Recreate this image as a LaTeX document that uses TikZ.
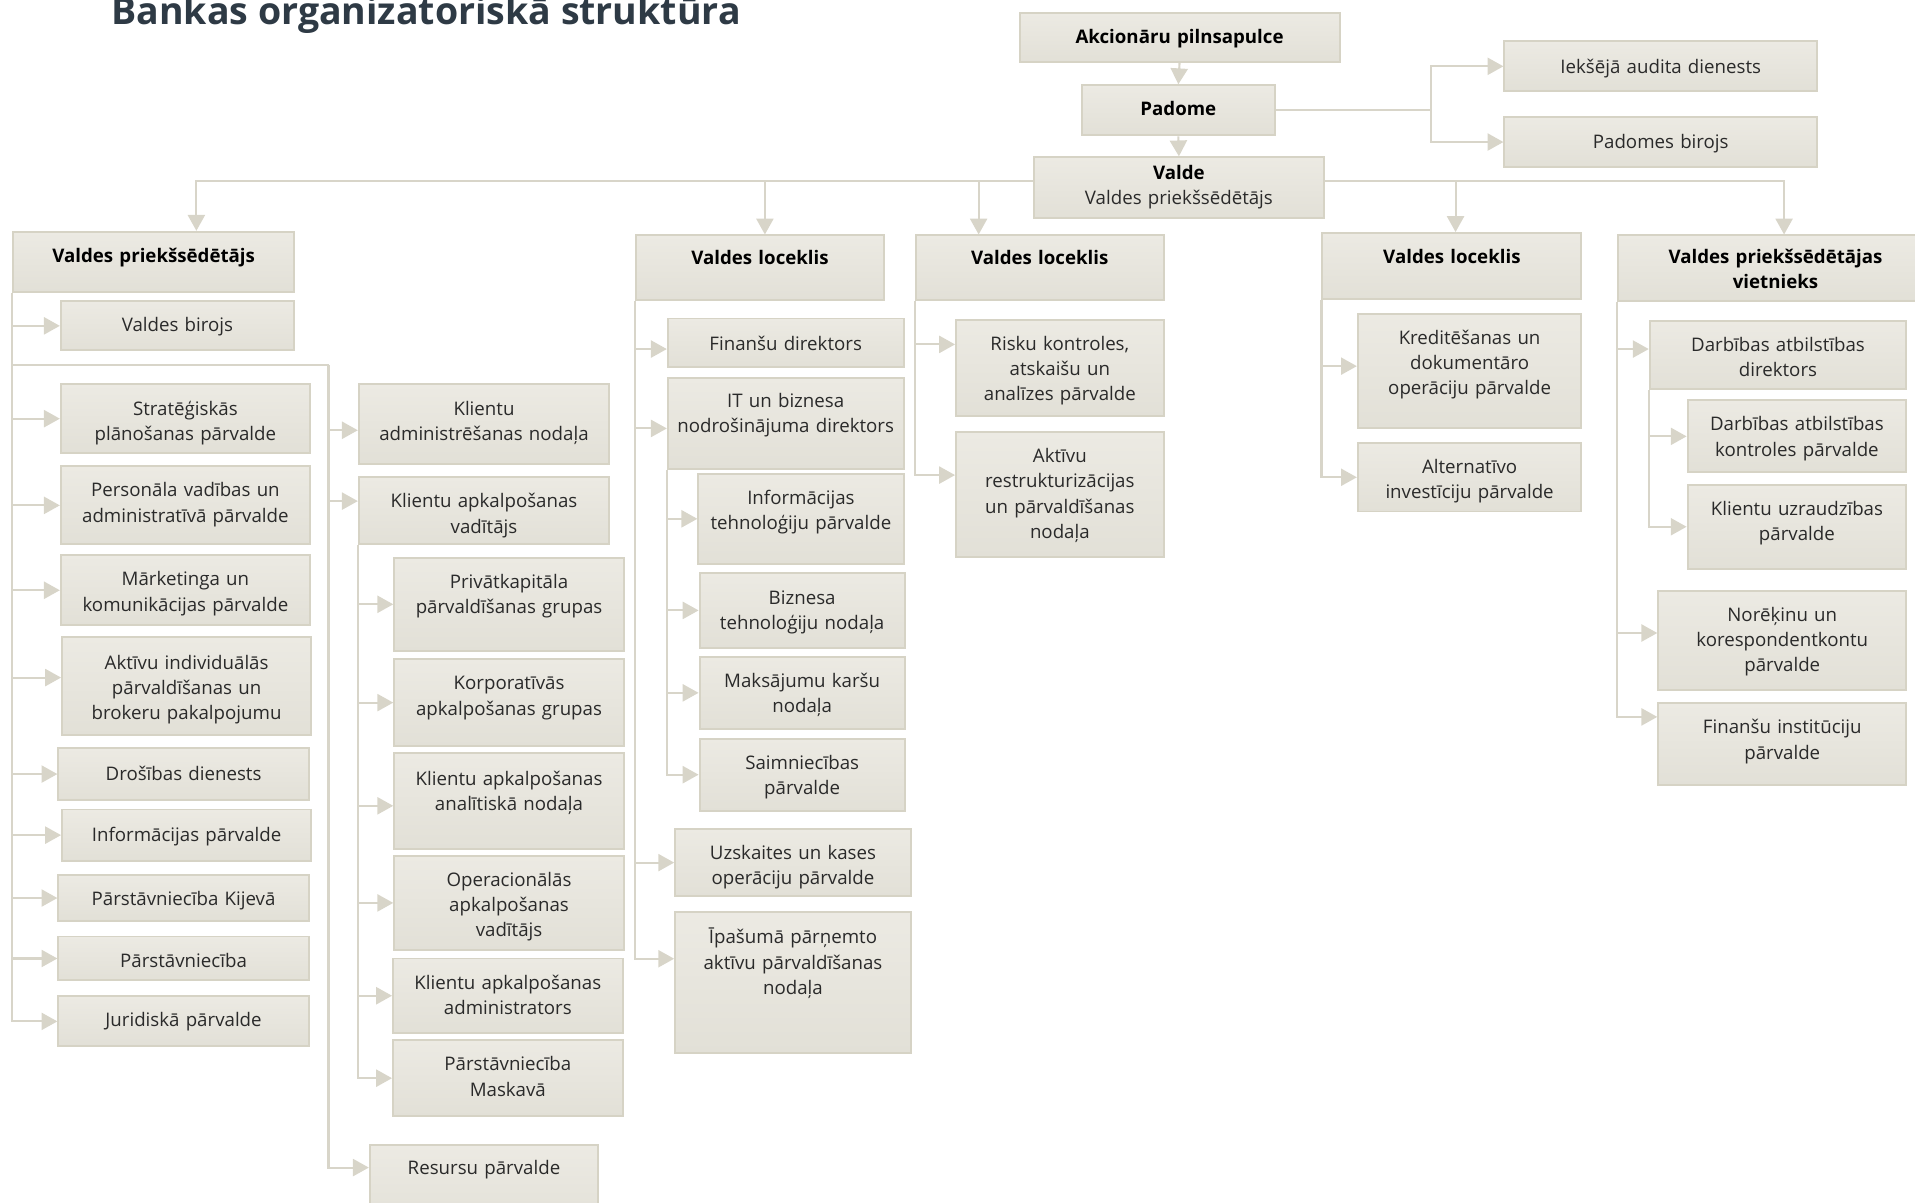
\documentclass[tikz,border=0pt]{standalone}
\usepackage{fontspec}
\setmainfont{Open Sans}
\usepackage{tikz}
\usetikzlibrary{arrows.meta}

\definecolor{boxtop}{HTML}{ECEAE3}
\definecolor{boxbot}{HTML}{E2E0D7}
\definecolor{boxline}{HTML}{D6D3C5}
\definecolor{wire}{HTML}{D8D5C9}
\definecolor{txt}{HTML}{2A2A2A}
\definecolor{titlecol}{HTML}{2E3A45}

\begin{document}
\begin{tikzpicture}[x=1pt, y=-1pt,
  unit/.style={draw=boxline, line width=1.6pt, top color=boxtop, bottom color=boxbot,
    anchor=north west, inner sep=0pt, align=center, text=txt, text height=25pt,
    font=\fontsize{15.3}{20.7}\selectfont},
  head/.style={unit, text=black, font=\bfseries\fontsize{15.3}{20.7}\selectfont},
  link/.style={draw=wire, line width=1.7pt},
  arr/.style={link, -{Triangle[length=13pt, width=14pt]}}]

  \useasboundingbox (0, 0) rectangle (1568, 985);

  \node[anchor=base west, inner sep=0pt, text=titlecol, font=\bfseries\fontsize{30.7}{36}\selectfont] (title) at (91, 20) {Bankas organizatoriskā struktūra};

  \node[head, text width=262pt, text depth=15pt] (akc) at (834, 10) {Akcionāru pilnsapulce};
  \node[head, text width=158pt, text depth=16pt] (padome) at (885, 69) {Padome};
  \node[unit, text width=237pt, text height=18pt, text depth=32pt] (valde) at (846, 128) {\textbf{\color{black}Valde}\\Valdes priekšsēdētājs};
  \node[unit, text width=256pt, text height=26pt, text depth=15pt] (audit) at (1231, 33) {Iekšējā audita dienests};
  \node[unit, text width=256pt, text height=26pt, text depth=15pt] (padbir) at (1231, 95) {Padomes birojs};

  \node[head, text width=230pt, text depth=24pt] (colA) at (10, 189) {Valdes priekšsēdētājs};
  \node[head, text width=203pt, text height=24pt, text depth=29pt] (colB) at (520, 192) {Valdes loceklis};
  \node[head, text width=203pt, text height=24pt, text depth=29pt] (colC) at (749, 192) {Valdes loceklis};
  \node[head, text width=212pt, text depth=29pt] (colD) at (1082, 190) {Valdes loceklis};
  \node[head, text width=258pt, text height=23pt, text depth=31pt] (colE) at (1324, 192) {Valdes priekšsēdētājas\\vietnieks};

  \node[unit, text width=191pt, text depth=15pt] (birojs) at (49, 246) {Valdes birojs};
  \node[unit, text width=204pt, text depth=31pt] (strat) at (49, 314) {Stratēģiskās\\plānošanas pārvalde};
  \node[unit, text width=204pt, text depth=39pt] (pers) at (49, 381) {Personāla vadības un\\administratīvā pārvalde};
  \node[unit, text width=204pt, text depth=32pt] (mark) at (49, 454) {Mārketinga un\\komunikācijas pārvalde};
  \node[unit, text width=204pt, text height=26pt, text depth=54pt] (aktind) at (50, 521) {Aktīvu individuālās\\pārvaldīšanas un\\brokeru pakalpojumu};
  \node[unit, text width=205pt, text height=26pt, text depth=16pt] (dros) at (47, 612) {Drošības dienests};
  \node[unit, text width=204pt, text height=26pt, text depth=16pt] (infp) at (50, 662) {Informācijas pārvalde};
  \node[unit, text width=205pt, text depth=12pt] (kijev) at (47, 716) {Pārstāvniecība Kijevā};
  \node[unit, text width=205pt, text depth=11pt] (parst) at (47, 766) {Pārstāvniecība};
  \node[unit, text width=205pt, text depth=16pt] (jur) at (47, 815) {Juridiskā pārvalde};

  \node[unit, text width=205pt, text depth=40pt] (cliadm) at (293, 314) {Klientu\\administrēšanas nodaļa};
  \node[unit, text width=205pt, text depth=30pt] (clivad) at (293, 390) {Klientu apkalpošanas\\vadītājs};
  \node[unit, text width=188pt, text depth=51pt] (privat) at (322, 456) {Privātkapitāla\\pārvaldīšanas grupas};
  \node[unit, text width=188pt, text depth=46pt] (korp) at (322, 539) {Korporatīvās\\apkalpošanas grupas};
  \node[unit, text width=188pt, text height=26pt, text depth=52pt] (anal) at (322, 616) {Klientu apkalpošanas\\analītiskā nodaļa};
  \node[unit, text width=188pt, text depth=52pt] (oper) at (322, 700) {Operacionālās\\apkalpošanas\\vadītājs};
  \node[unit, text width=188pt, text depth=36pt] (cliadmin) at (321, 784) {Klientu apkalpošanas\\administrators};
  \node[unit, text width=188pt, text depth=37pt] (maskava) at (321, 851) {Pārstāvniecība\\Maskavā};
  \node[unit, text width=187pt, text height=24pt, text depth=46pt] (resursi) at (302, 937) {Resursu pārvalde};

  \node[unit, text width=193pt, text height=26pt, text depth=14pt] (findir) at (546, 260) {Finanšu direktors};
  \node[unit, text width=193pt, text height=24pt, text depth=50pt] (itdir) at (546, 309) {IT un biznesa\\nodrošinājuma direktors};
  \node[unit, text width=168pt, text depth=49pt] (ittech) at (571, 387) {Informācijas\\tehnoloģiju pārvalde};
  \node[unit, text width=168pt, text height=26pt, text depth=36pt] (biztech) at (572, 468) {Biznesa\\tehnoloģiju nodaļa};
  \node[unit, text width=168pt, text depth=34pt] (karsu) at (572, 537) {Maksājumu karšu\\nodaļa};
  \node[unit, text width=168pt, text depth=34pt] (saimn) at (572, 604) {Saimniecības\\pārvalde};
  \node[unit, text width=193pt, text depth=30pt] (uzsk) at (552, 678) {Uzskaites un kases\\operāciju pārvalde};
  \node[unit, text width=193pt, text height=26pt, text depth=89pt] (ipas) at (552, 746) {Īpašumā pārņemto\\aktīvu pārvaldīšanas\\nodaļa};

  \node[unit, text width=170pt, text depth=54pt] (risk) at (782, 261) {Risku kontroles,\\atskaišu un\\analīzes pārvalde};
  \node[unit, text width=170pt, text depth=77pt] (restr) at (782, 353) {Aktīvu\\restrukturizācijas\\un pārvaldīšanas\\nodaļa};

  \node[unit, text width=183pt, text depth=69pt] (kred) at (1111, 256) {Kreditēšanas un\\dokumentāro\\operāciju pārvalde};
  \node[unit, text width=183pt, text depth=31pt] (altinv) at (1111, 362) {Alternatīvo\\investīciju pārvalde};

  \node[unit, text width=210pt, text height=25pt, text depth=31pt] (atbdir) at (1350, 262) {Darbības atbilstības\\direktors};
  \node[unit, text width=179pt, text depth=34pt] (atbkontr) at (1381, 327) {Darbības atbilstības\\kontroles pārvalde};
  \node[unit, text width=179pt, text depth=44pt] (uzraudz) at (1381, 396) {Klientu uzraudzības\\pārvalde};
  \node[unit, text width=203pt, text depth=56pt] (norek) at (1357, 483) {Norēķinu un\\korespondentkontu\\pārvalde};
  \node[unit, text width=203pt, text depth=42pt] (finins) at (1357, 575) {Finanšu institūciju\\pārvalde};

  \coordinate (forkA) at (269, 299);

  \draw [arr] (akc.south) -- (padome.north);
  \draw [arr] (padome.south) -- (valde.north);
  \draw [arr] (padome.east) -| ([xshift=-59pt]audit.west) -- (audit.west);
  \draw [arr] (padome.east) -| ([xshift=-59pt]padbir.west) -- (padbir.west);

  \draw [arr] ([yshift=-20pt]valde.north west) -| ([xshift=35pt]colA.north);
  \draw [arr] ([yshift=-20pt]valde.north west) -| ([xshift=4pt]colB.north);
  \draw [arr] ([yshift=-20pt]valde.north west) -| ([xshift=-50pt]colC.north);
  \draw [arr] ([yshift=-20pt]valde.north east) -| ([xshift=3pt]colD.north);
  \draw [arr] ([yshift=-20pt]valde.north east) -| ([xshift=7pt]colE.north);

  \draw [arr] (colA.south west) |- (birojs.west);
  \draw [arr] (colA.south west) |- (strat.west);
  \draw [arr] (colA.south west) |- (pers.west);
  \draw [arr] (colA.south west) |- (mark.west);
  \draw [arr] (colA.south west) |- ([yshift=7pt]aktind.west);
  \draw [arr] (colA.south west) |- (dros.west);
  \draw [arr] (colA.south west) |- (infp.west);
  \draw [arr] (colA.south west) |- (kijev.west);
  \draw [arr] (colA.south west) |- (parst.west);
  \draw [arr] (colA.south west) |- (jur.west);
  \draw [link] (colA.south west) |- (forkA);

  \draw [arr] (forkA) |- ([yshift=-5pt]cliadm.west);
  \draw [arr] (forkA) |- ([yshift=8pt]clivad.west);
  \draw [arr] (forkA) |- ([yshift=-19pt]resursi.north west);

  \draw [arr] (clivad.south west) |- (privat.west);
  \draw [arr] (clivad.south west) |- (korp.west);
  \draw [arr] (clivad.south west) |- ([yshift=-4pt]anal.west);
  \draw [arr] (clivad.south west) |- (oper.west);
  \draw [arr] (clivad.south west) |- (cliadmin.west);
  \draw [arr] (clivad.south west) |- (maskava.west);

  \draw [arr] (colB.south west) |- ([yshift=-5pt]findir.west);
  \draw [arr] (colB.south west) |- ([yshift=-4pt]itdir.west);
  \draw [arr] (colB.south west) |- (uzsk.west);
  \draw [arr] (colB.south west) |- ([yshift=-39pt]ipas.north west);
  \draw [arr] (itdir.south west) |- (ittech.west);
  \draw [arr] (itdir.south west) |- (biztech.west);
  \draw [arr] (itdir.south west) |- (karsu.west);
  \draw [arr] (itdir.south west) |- (saimn.west);

  \draw [arr] (colC.south west) |- ([yshift=-21pt]risk.north west);
  \draw [arr] (colC.south west) |- ([yshift=-36pt]restr.north west);

  \draw [arr] (colD.south west) |- ([yshift=4pt]kred.west);
  \draw [arr] (colD.south west) |- (altinv.west);

  \draw [arr] (colE.south west) |- ([yshift=5pt]atbdir.west);
  \draw [arr] (colE.south west) |- ([yshift=6pt]norek.west);
  \draw [arr] (colE.south west) |- ([yshift=-12pt]finins.north west);
  \draw [arr] (atbdir.south west) |- (atbkontr.west);
  \draw [arr] (atbdir.south west) |- (uzraudz.west);

\end{tikzpicture}
\end{document}
